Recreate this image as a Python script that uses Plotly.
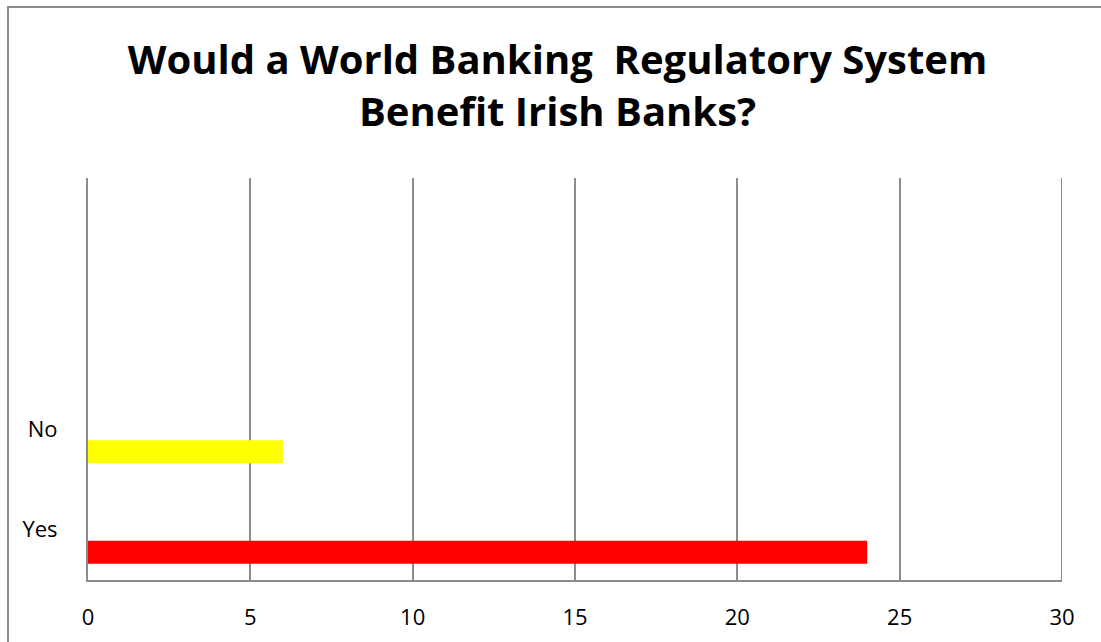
import plotly.graph_objects as go

# Survey responses
categories = ["Yes", "No"]
responses = [24, 6]
bar_colors = ["#FF0000", "#FFFF00"]

title_lines = ["Would a World Banking\u00a0\u00a0Regulatory System", "Benefit Irish Banks?"]
x_ticks = [0, 5, 10, 15, 20, 25, 30]
x_max = 30

grid_gray = "#8C8C8C"

fig = go.Figure(
    go.Bar(
        x=responses,
        y=categories,
        orientation="h",
        marker=dict(color=bar_colors, line=dict(width=0)),
        width=0.229,
        offset=-0.338,
        hoverinfo="x+y",
    )
)

fig.update_layout(
    width=1101,
    height=642,
    margin=dict(l=88, r=39, t=178, b=62),
    paper_bgcolor="white",
    plot_bgcolor="white",
    showlegend=False,
    font=dict(family="Open Sans, Noto Sans, sans-serif", color="black"),
    title=dict(
        text="<br>".join(title_lines),
        font=dict(family="Open Sans, Noto Sans, sans-serif", size=40, color="black", weight="bold"),
        x=0.5064,
        xanchor="center",
        xref="container",
        y=1 - 74 / 642,
        yanchor="middle",
        yref="container",
    ),
    xaxis=dict(
        range=[0, x_max],
        tickvals=x_ticks,
        showgrid=True,
        gridcolor=grid_gray,
        gridwidth=2,
        showline=True,
        linecolor=grid_gray,
        linewidth=2,
        zeroline=False,
        ticks="",
        ticklabelstandoff=17,
        tickfont=dict(size=22, color="black"),
        fixedrange=True,
    ),
    yaxis=dict(
        type="category",
        categoryorder="array",
        categoryarray=categories,
        range=[-0.5, 3.5],
        showgrid=False,
        showline=True,
        linecolor=grid_gray,
        linewidth=2,
        zeroline=False,
        ticks="",
        ticklabelstandoff=24,
        tickfont=dict(size=22, color="black"),
        fixedrange=True,
    ),
    shapes=[
        # outer chart frame, running off the right and bottom edges
        dict(
            type="rect",
            xref="paper",
            yref="paper",
            x0=(8 - 88) / 974,
            x1=1.2,
            y0=-0.4,
            y1=(580 - 7) / 402,
            line=dict(color=grid_gray, width=2),
            fillcolor="rgba(0,0,0,0)",
            layer="below",
        ),
        # gridline at the top of the value range (sits on the plot edge)
        dict(
            type="line",
            xref="x",
            yref="paper",
            x0=x_max,
            x1=x_max,
            y0=0,
            y1=1,
            line=dict(color=grid_gray, width=2),
            layer="below",
        ),
    ],
)

fig.write_html("out.html")
